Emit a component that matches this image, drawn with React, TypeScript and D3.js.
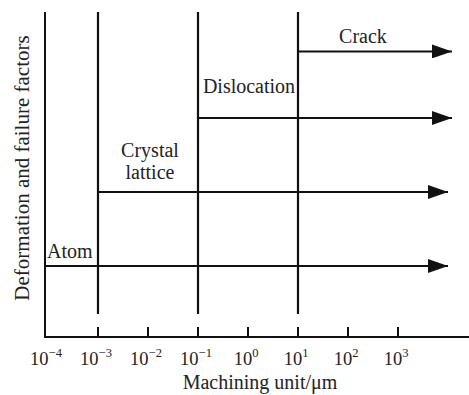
import * as d3 from 'd3'

// machining unit exponents (10^n) on the x axis
const tickExps = [-4, -3, -2, -1, 0, 1, 2, 3]
// boundaries where a new failure factor starts
const boundaryExps = [-3, -1, 1]
// failure factors, bottom to top
const factors = ['Atom', 'Crystal lattice', 'Dislocation', 'Crack']
const factorStart = [-4, -3, -1, 1]
const factorLevel = [1, 2, 3, 3.9]

const W = 469
const H = 395
const FONT = '"Liberation Serif", "Times New Roman", serif'

const x = d3.scaleLinear().domain([-4, 3]).range([48, 398])
const y = d3.scaleLinear().domain([1, 3]).range([266, 118])

const axisX = 45
const axisY = 337
const axisTop = 12
const arrowEnd = 452

const supText = (n: number) => (n < 0 ? '\u2212' + Math.abs(n) : String(n))

export default function App() {
  const midCrystal = (x(-3) + x(-1)) / 2 + 2
  return (
    <svg width={W} height={H} style={{ display: 'block', position: 'absolute', left: 0, top: 0 }}>
      <defs>
        <marker id="arr" viewBox="0 0 20 14" refX="20" refY="7" markerWidth="20" markerHeight="14" markerUnits="userSpaceOnUse" orient="auto">
          <path d="M0,0 L20,7 L0,14 Z" fill="#111" />
        </marker>
      </defs>
      <rect width={W} height={H} fill="#fff" />

      {/* axes */}
      <line x1={axisX} y1={axisTop} x2={axisX} y2={axisY + 1} stroke="#111" strokeWidth={2} />
      <line x1={axisX - 1} y1={axisY} x2={W} y2={axisY} stroke="#111" strokeWidth={2} />

      {/* ticks and labels */}
      {tickExps.map((e) => (
        <g key={e}>
          {e > -4 && <line x1={x(e)} x2={x(e)} y1={axisY} y2={axisY - 10} stroke="#111" strokeWidth={2} />}
          <text x={x(e) - 2} y={365} fontFamily={FONT} fontSize={18.5} textAnchor="middle" fill="#222">
            10
            <tspan dy={-8} fontSize={12.5}>{supText(e)}</tspan>
          </text>
        </g>
      ))}

      {/* boundary lines */}
      {boundaryExps.map((e) => (
        <line key={e} x1={x(e)} x2={x(e)} y1={axisTop} y2={314} stroke="#111" strokeWidth={2.2} />
      ))}

      {/* factor arrows */}
      {factors.map((f, i) => {
        const x0 = factorStart[i] === -4 ? axisX : x(factorStart[i])
        const end = i < 2 ? arrowEnd - 4 : arrowEnd
        return <line key={f} x1={x0} x2={end} y1={y(factorLevel[i])} y2={y(factorLevel[i])} stroke="#111" strokeWidth={2} markerEnd="url(#arr)" />
      })}

      {/* factor labels */}
      <text x={axisX + 2} y={y(factorLevel[0]) - 8} fontFamily={FONT} fontSize={20} fill="#222">{factors[0]}</text>
      <text x={midCrystal} y={157} fontFamily={FONT} fontSize={20} textAnchor="middle" fill="#222">
        <tspan x={midCrystal}>Crystal</tspan>
        <tspan x={midCrystal} dy={22}>lattice</tspan>
      </text>
      <text x={(x(-1) + x(1)) / 2 + 1} y={y(factorLevel[2]) - 25} fontFamily={FONT} fontSize={20} textAnchor="middle" fill="#222">{factors[2]}</text>
      <text x={363} y={y(factorLevel[3]) - 8} fontFamily={FONT} fontSize={20} textAnchor="middle" fill="#222">{factors[3]}</text>

      {/* axis titles */}
      <text x={260} y={389} fontFamily={FONT} fontSize={20} textAnchor="middle" fill="#222">Machining unit/μm</text>
      <text transform={`translate(29,168) rotate(-90)`} fontFamily={FONT} fontSize={21} textAnchor="middle" fill="#222">
        Deformation and failure factors
      </text>
    </svg>
  )
}
